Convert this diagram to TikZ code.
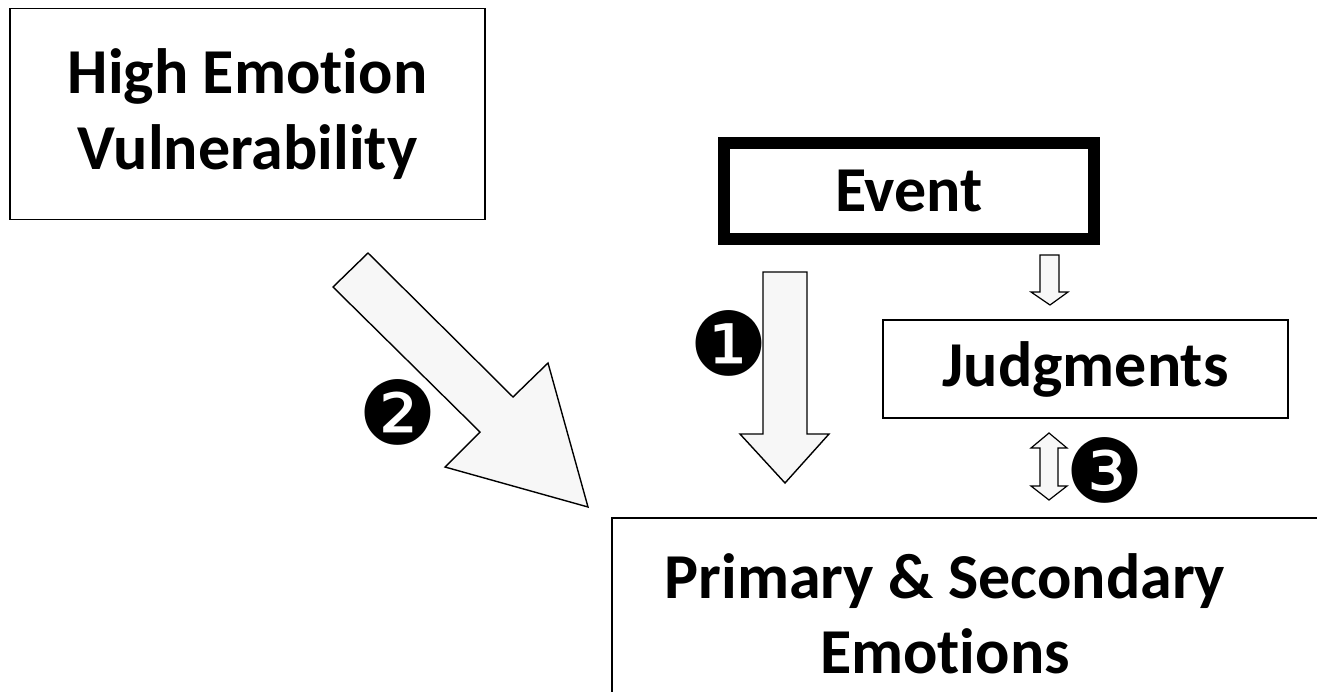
\documentclass[tikz,border=0pt]{standalone}
\usepackage{fontspec}
\setmainfont{Carlito}[Ligatures={NoCommon}]
\newfontfamily\symfont{DejaVu Sans}
\begin{document}
\begin{tikzpicture}[x=1pt,y=-1pt,
  box/.style={draw=black,line width=1.6pt,fill=white,inner sep=0pt,align=center,
    font=\fontsize{64}{76}\selectfont\bfseries},
  blockarrow/.style={draw=black,line width=1.4pt,fill=black!3,line join=miter},
  numlabel/.style={inner sep=0pt,font=\symfont\fontsize{88}{88}\selectfont}]
\useasboundingbox (0,0) rectangle (1317,691);
\clip (0,0) rectangle (1317,691);
\fill[white] (0,0) rectangle (1317,691);

% boxes
\node[box,minimum width=475pt,minimum height=211pt] (hev) at (247.5,114) {High Emotion\\Vulnerability};
\node[box,line width=12pt,minimum width=370pt,minimum height=96pt] (event) at (909,191) {Event};
\node[box,minimum width=405pt,minimum height=98pt] (judg) at (1085.5,369) {Judgments};
\node[box,minimum width=800pt,minimum height=300pt,anchor=north west] (pse) at (611,517) {};
\node[inner sep=0pt,align=center,font=\fontsize{64}{75}\selectfont\bfseries,anchor=base] (psetext) at (945,673) {Primary \& Secondary\\Emotions};

% arrow 1: Event -> emotions
\draw[blockarrow] (763,272) -- (807,272) -- (807,434) -- (829,434) -- (785,483) -- (740,434) -- (763,434) -- cycle;
% arrow 2: vulnerability -> emotions
\draw[blockarrow] (333,287) -- (368,253) -- (513,397) -- (548,363) -- (588,507) -- (445,467) -- (480,432) -- cycle;
% small arrow Event -> Judgments
\draw[blockarrow,line width=1.2pt] (1040,255) -- (1059,255) -- (1059,292) -- (1068,292) -- (1050,305) -- (1031,292) -- (1040,292) -- cycle;
% double arrow Judgments <-> emotions
\draw[blockarrow,line width=1.2pt] (1049,433) -- (1067,448) -- (1058,448) -- (1058,486) -- (1067,486) -- (1049,500) -- (1031,486) -- (1040,486) -- (1040,448) -- (1031,448) -- cycle;

% number labels
\node[numlabel] (n1) at (729,343) {❶};
\node[numlabel] (n2) at (398,412) {❷};
\node[numlabel] (n3) at (1105,470) {❸};
\end{tikzpicture}
\end{document}
